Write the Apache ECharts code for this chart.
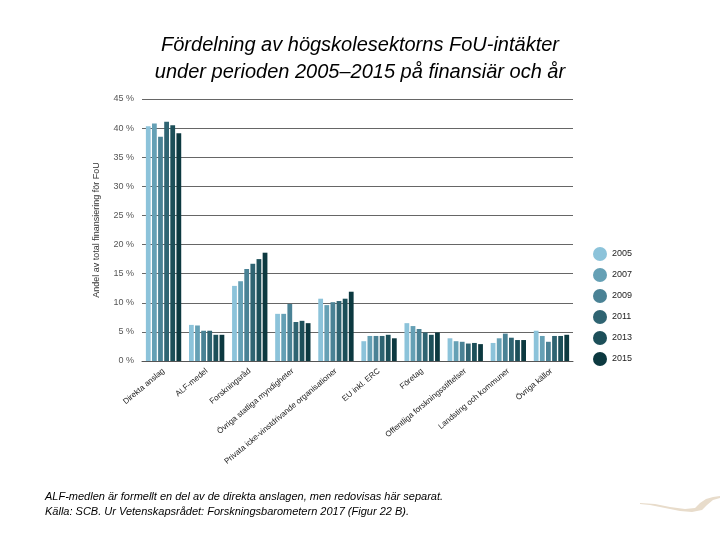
<!DOCTYPE html>
<html><head><meta charset="utf-8">
<script src="https://cdn.jsdelivr.net/npm/echarts@6/dist/echarts.min.js"></script>
<style>html,body{margin:0;padding:0;background:#fff}#c{width:720px;height:540px}</style>
</head><body><div id="c"></div>
<script>
var categories = ["Direkta anslag","ALF-medel","Forskningsråd","Övriga statliga myndigheter","Privata icke-vinstdrivande organisationer","EU inkl. ERC","Företag","Offentliga forskningsstiftelser","Landsting och kommuner","Övriga källor"];
var years = ["2005","2007","2009","2011","2013","2015"];
var v2005 = [40.3, 6.2, 12.9, 8.1, 10.7, 3.4, 6.5, 3.9, 3.1, 5.2];
var v2007 = [40.8, 6.1, 13.7, 8.1, 9.6, 4.3, 6.0, 3.4, 3.9, 4.3];
var v2009 = [38.5, 5.2, 15.8, 9.8, 10.1, 4.3, 5.5, 3.3, 4.7, 3.3];
var v2011 = [41.1, 5.2, 16.7, 6.7, 10.3, 4.3, 4.9, 3.0, 4.0, 4.3];
var v2013 = [40.5, 4.5, 17.5, 6.9, 10.7, 4.5, 4.5, 3.1, 3.6, 4.3];
var v2015 = [39.1, 4.5, 18.6, 6.5, 11.9, 3.9, 4.9, 2.9, 3.6, 4.5];
var yTicks = [0,5,10,15,20,25,30,35,40,45];
var colors = ["#8cc3da","#65a0b5","#4a8295","#2f6472","#1c4f59","#0c3940"];
var allValues = [v2005,v2007,v2009,v2011,v2013,v2015];

var chart = echarts.init(document.getElementById('c'), null, {renderer:'canvas'});
var series = years.map(function(y,i){
  return {name:y, type:'bar', data:allValues[i], itemStyle:{color:colors[i]},
    barGap:'28%', barCategoryGap:'18%'};
});
chart.setOption({
  animation:false,
  title:{text:'Fördelning av högskolesektorns FoU-intäkter\nunder perioden 2005–2015 på finansiär och år',
    left:'center', top:27,
    textStyle:{fontFamily:'Liberation Sans, Arial', fontStyle:'italic', fontWeight:'normal', fontSize:20, lineHeight:27, color:'#000'}},
  legend:{orient:'vertical', left:588, top:242, itemWidth:14, itemHeight:14, itemGap:7, icon:'circle',
    textStyle:{fontFamily:'Liberation Sans, Arial', fontSize:9, color:'#222'},
    data:years},
  grid:{left:142, right:147, top:99, bottom:179, containLabel:false},
  xAxis:{type:'category', data:categories,
    axisLine:{lineStyle:{color:'#555', width:1}}, axisTick:{show:false},
    axisLabel:{rotate:40, interval:0, fontFamily:'Liberation Sans, Arial', fontSize:8, color:'#222', margin:9}},
  yAxis:{type:'value', min:0, max:45, interval:5,
    name:'Andel av total finansiering för FoU', nameLocation:'middle', nameGap:41,
    nameTextStyle:{fontFamily:'Liberation Sans, Arial', fontSize:9, color:'#333'},
    axisLine:{show:false}, axisTick:{show:false},
    splitLine:{lineStyle:{color:'#666', width:1}},
    axisLabel:{formatter:function(v){return yTicks.indexOf(v)>=0 ? v+' %' : '';}, fontFamily:'Liberation Sans, Arial', fontSize:9, color:'#555', margin:8}},
  series:series,
  graphic:[
    {type:'text', left:45, top:489, style:{text:'ALF-medlen är formellt en del av de direkta anslagen, men redovisas här separat.\nKälla: SCB. Ur Vetenskapsrådet: Forskningsbarometern 2017 (Figur 22 B).',
      font:'italic 11px Liberation Sans, Arial', fill:'#000', lineHeight:15}},
    {type:'polygon', shape:{points:[[640,503],[655,504],[670,507],[685,509],[695,508],[700,503],[706,499],[713,497],[720,496],[720,498],[713,500],[707,505],[702,510],[692,512],[680,511],[665,508],[650,505],[640,504]]},
      style:{fill:'#e8dccb'}}
  ]
});
</script></body></html>
